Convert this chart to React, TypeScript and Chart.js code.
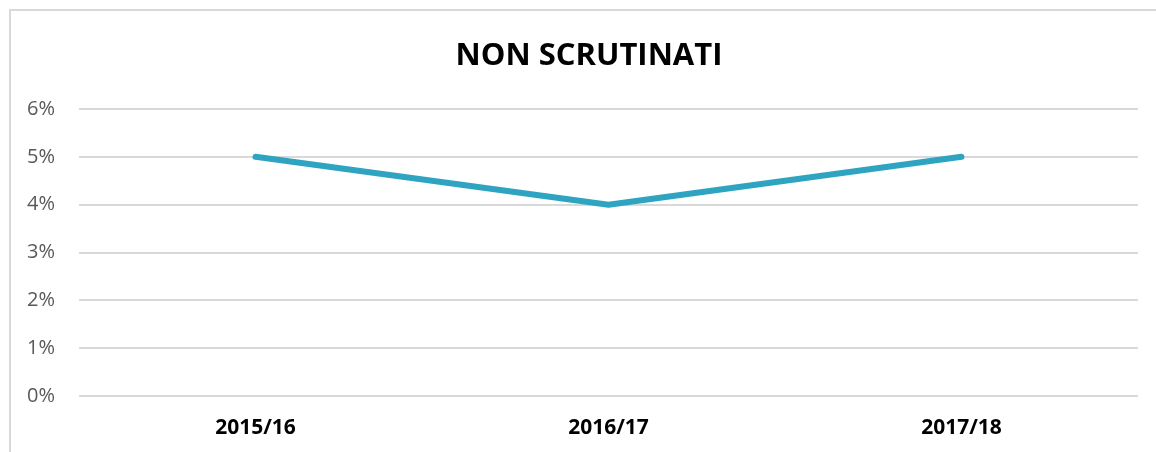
import React, { useEffect, useRef } from "react";
import { Chart, registerables } from "chart.js";

Chart.register(...registerables);

const TITLE = "NON SCRUTINATI";
const CATEGORIES = ["2015/16", "2016/17", "2017/18"];
const VALUES = [0.05, 0.04, 0.05];
const Y_MIN = 0;
const Y_MAX = 0.06;
const Y_STEP = 0.01;

const framePlugin = {
  id: "frameAndTitle",
  beforeDraw(chart: any) {
    const ctx = chart.ctx;
    ctx.save();
    ctx.fillStyle = "#ffffff";
    ctx.fillRect(0, 0, chart.width, chart.height);
    ctx.strokeStyle = "#d9d9d9";
    ctx.lineWidth = 2;
    ctx.beginPath();
    ctx.moveTo(10, chart.height + 5);
    ctx.lineTo(10, 10);
    ctx.lineTo(chart.width + 5, 10);
    ctx.stroke();
    ctx.restore();
  },
  afterDraw(chart: any) {
    const ctx = chart.ctx;
    ctx.save();
    ctx.fillStyle = "#000000";
    ctx.font = "bold 31px 'Open Sans'";
    ctx.textAlign = "center";
    ctx.textBaseline = "middle";
    ctx.fillText(TITLE, 589, 56);
    ctx.restore();
  },
};

export default function App() {
  const ref = useRef<HTMLCanvasElement | null>(null);
  useEffect(() => {
    if (!ref.current) return;
    const chart = new Chart(ref.current, {
      type: "line",
      data: {
        labels: CATEGORIES,
        datasets: [
          {
            data: VALUES,
            borderColor: "#2ea4c1",
            borderWidth: 6,
            borderCapStyle: "round",
            borderJoinStyle: "round",
            pointRadius: 0,
            tension: 0,
            fill: false,
          },
        ],
      },
      options: {
        responsive: false,
        animation: false,
        layout: { padding: { top: 109, left: 0, right: 18, bottom: 0 } },
        plugins: {
          legend: { display: false },
          tooltip: { enabled: false },
          title: { display: false },
        },
        scales: {
          x: {
            offset: true,
            grid: { display: false, drawTicks: false },
            border: { display: false },
            ticks: {
              color: "#000000",
              padding: 19,
              font: { family: "'Open Sans'", size: 21, weight: "bold" },
            },
            afterFit(scale: any) {
              scale.height = 56;
            },
          },
          y: {
            min: Y_MIN,
            max: Y_MAX,
            grid: { color: "#d9d9d9", lineWidth: 2, drawTicks: false },
            border: { display: false },
            ticks: {
              stepSize: Y_STEP,
              color: "#595959",
              padding: 24,
              font: { family: "'Open Sans'", size: 20 },
              callback: (v: any) => Math.round(Number(v) * 100) + "%",
            },
            afterFit(scale: any) {
              scale.width = 79;
            },
          },
        },
      },
      plugins: [framePlugin],
    });
    return () => chart.destroy();
  }, []);
  return (
    <div style={{ position: "absolute", left: 0, top: 0, width: 1156, height: 452, overflow: "hidden", background: "#fff" }}>
      <canvas ref={ref} width={1156} height={452} style={{ display: "block" }} />
    </div>
  );
}
